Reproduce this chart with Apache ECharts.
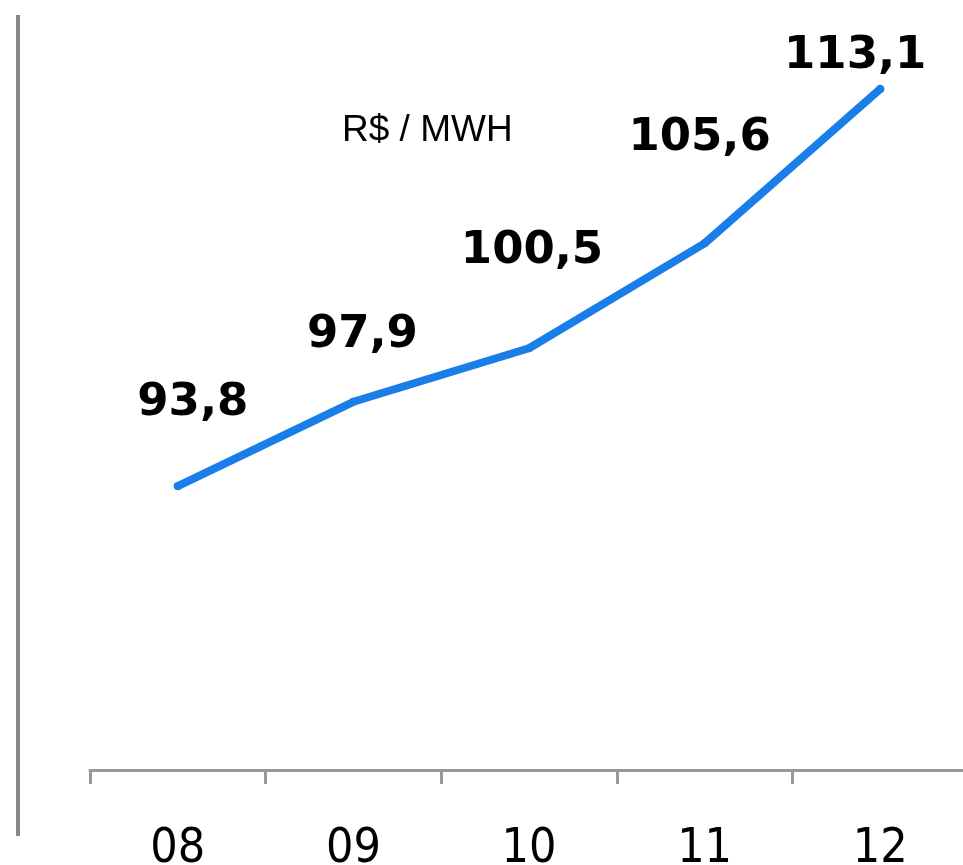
<!DOCTYPE html>
<html>
<head>
<meta charset="utf-8">
<script src="https://cdn.jsdelivr.net/npm/echarts@6/dist/echarts.min.js"></script>
<style>
body { margin: 0; background: #fff; }
#main { width: 963px; height: 865px; }
</style>
</head>
<body>
<div id="main"></div>
<script>
var years = ['08', '09', '10', '11', '12'];
var prices = [93.8, 97.9, 100.5, 105.6, 113.1];
var unitLabel = 'R$ / MWH';

// per-point label nudges, to sit where the original puts them
var labelOffsets = [[15, -51], [9, -35], [3, -65], [-5, -74], [-25, -1]];

var chart = echarts.init(document.getElementById('main'));

var option = {
    animation: false,
    grid: { left: 90, top: 50, width: 878, height: 720, outerBoundsMode: 'none' },
    xAxis: {
        type: 'category',
        data: years,
        boundaryGap: true,
        axisLine: { lineStyle: { color: '#999', width: 3 } },
        axisTick: { show: true, length: 14, lineStyle: { color: '#999', width: 3 } },
        axisLabel: {
            margin: 56,
            fontFamily: '"Liberation Sans Narrow", "DejaVu Sans Condensed", sans-serif',
            fontSize: 48,
            color: '#000'
        }
    },
    yAxis: {
        type: 'value',
        min: 80,
        max: 115,
        show: false
    },
    series: [{
        type: 'line',
        data: prices.map(function (v, i) {
            return { value: v, label: { offset: labelOffsets[i] } };
        }),
        showSymbol: true,
        symbol: 'circle',
        symbolSize: 8,
        itemStyle: { color: '#1a7ee8', borderWidth: 0 },
        lineStyle: { color: '#1a7ee8', width: 8, cap: 'round' },
        label: {
            show: true,
            position: 'top',
            fontFamily: '"DejaVu Sans", Verdana, sans-serif',
            fontWeight: 'bold',
            fontSize: 45,
            color: '#000',
            formatter: function (p) { return p.value.toFixed(1).replace('.', ','); }
        }
    }],
    graphic: [
        {
            type: 'line',
            shape: { x1: 18, y1: 15, x2: 18, y2: 836 },
            style: { stroke: '#888', lineWidth: 4 }
        },
        {
            type: 'text',
            left: 342,
            top: 112,
            style: {
                text: unitLabel,
                font: '37px "Liberation Sans", Arial, sans-serif',
                fill: '#000'
            }
        }
    ]
};

chart.setOption(option);
</script>
</body>
</html>
